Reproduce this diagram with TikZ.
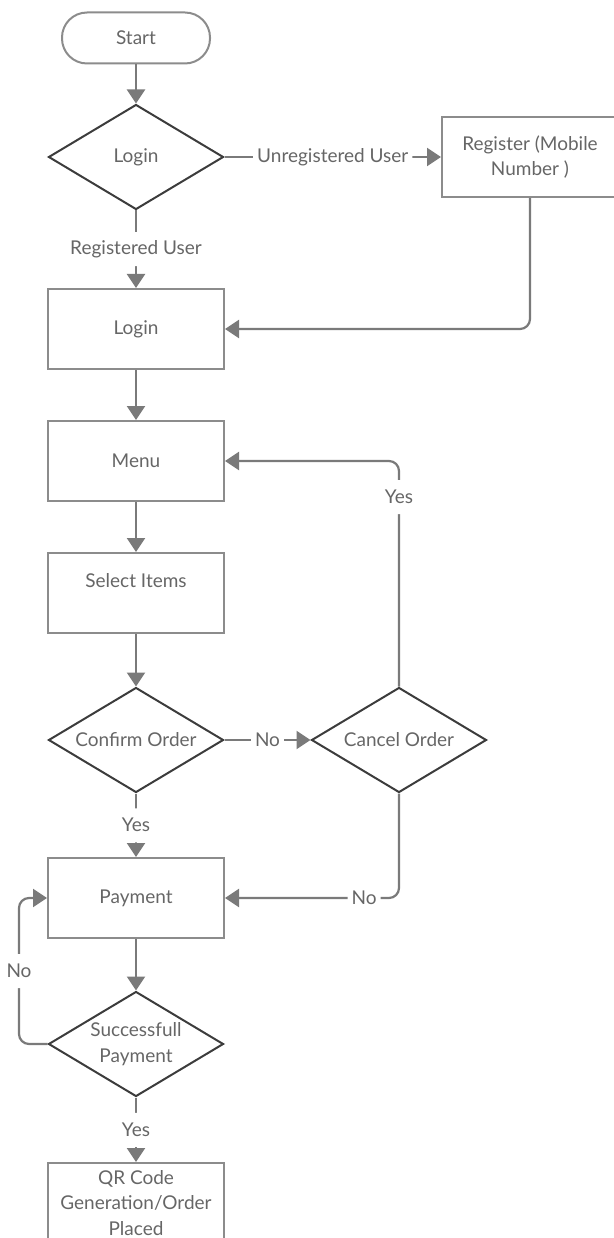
\documentclass[tikz,border=0pt]{standalone}
\usepackage{fontspec}
\setmainfont{Lato}
\usetikzlibrary{shapes.geometric, arrows.meta}
\definecolor{linegray}{HTML}{7A7A7A}
\definecolor{boxgray}{HTML}{8C8C8C}
\definecolor{darkline}{HTML}{3C3C3C}
\definecolor{textgray}{HTML}{666666}
\tikzset{
  procbox/.style={draw=boxgray, line width=2pt, minimum width=176pt, minimum height=80pt,
    text=textgray, align=center, inner sep=0pt},
  decision/.style={diamond, draw=darkline, line width=2pt, minimum width=175pt,
    minimum height=105pt, aspect=1.65, inner sep=0pt, text=textgray, align=center},
  terminal/.style={draw=boxgray, line width=2pt, rounded corners=25pt, minimum width=148pt,
    minimum height=51pt, text=textgray},
  conn/.style={draw=linegray, line width=2.2pt, -{Triangle[width=18pt,length=14pt]},
    rounded corners=10pt},
  lbl/.style={fill=white, text=textgray, inner xsep=4pt, inner ysep=0pt, minimum height=34pt},
}
\begin{document}
\begin{tikzpicture}[x=1pt, y=-1pt, font=\fontsize{19}{25.5}\selectfont]
\useasboundingbox (0,0) rectangle (613,1238);
\node[terminal] (start) at (136,38) {Start};
\node[decision] (logind) at (136,157) {Login};
\node[procbox] (register) at (530,157) {Register (Mobile\\Number )};
\node[procbox] (loginbox) at (136,329) {Login};
\node[procbox] (menu) at (136,461) {Menu};
\node[procbox] (select) at (136,593) {Select Items\\\mbox{}};
\node[decision] (confirm) at (136,740) {Confirm Order};
\node[decision] (cancel) at (399,740) {Cancel Order};
\node[procbox] (payment) at (136,898) {Payment};
\node[decision] (success) at (136,1044) {Successfull\\Payment};
\node[procbox] (qr) at (136,1203) {QR Code\\Generation/Order\\Placed};
\coordinate (payloop) at (19,898);

\draw[conn] (start) -- (logind);
\draw[conn] (logind.east) -- node[lbl] {Unregistered User} (register.west);
\draw[conn] (logind.south) -- node[lbl] {Registered User} (loginbox.north);
\draw[conn] (register.south) |- (loginbox.east);
\draw[conn] (loginbox) -- (menu);
\draw[conn] (menu) -- (select);
\draw[conn] (select) -- (confirm);
\draw[conn] (confirm.east) -- node[lbl] {No} (cancel.west);
\draw[conn] (confirm.south) -- node[lbl] {Yes} (payment.north);
\draw[conn] (cancel.north) |- node[lbl, pos=0.42] {Yes} (menu.east);
\draw[conn] (cancel.south) |- node[lbl, pos=0.6] {No} (payment.east);
\draw[conn] (payment) -- (success);
\draw[conn] (success.west) -| node[lbl, pos=0.75] {No} (payloop) -- (payment.west);
\draw[conn] (success.south) -- node[lbl] {Yes} (qr.north);
\end{tikzpicture}
\end{document}
